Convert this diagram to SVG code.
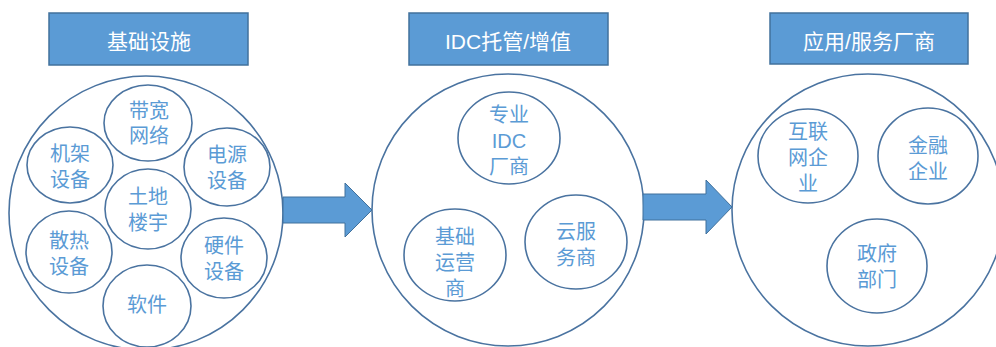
<svg xmlns="http://www.w3.org/2000/svg" width="996" height="347" viewBox="0 0 996 347">
<style>
  .title rect { fill: #5B9BD5; stroke: #41719C; stroke-width: 1.5; }
  .title text { fill: #ffffff; font-family: "Liberation Sans", "Noto Sans CJK SC", sans-serif; font-size: 21px; text-anchor: middle; dominant-baseline: central; }
  .big { fill: #ffffff; stroke: #4A73A0; stroke-width: 1.6; }
  .node ellipse { fill: #ffffff; stroke: #4A73A0; stroke-width: 1.6; }
  .node text { fill: #5B9BD5; font-family: "Liberation Sans", "Noto Sans CJK SC", sans-serif; font-size: 20px; text-anchor: middle; dominant-baseline: central; }
  .arrow { fill: #5B9BD5; stroke: #41719C; stroke-width: 1; }
</style>
<rect width="996" height="347" fill="#ffffff"/>

<g id="title1" class="title"><rect x="49" y="13" width="199" height="52"/><text x="149" y="41">基础设施</text></g>
<g id="title2" class="title"><rect x="409" y="13" width="199" height="52"/><text x="508" y="41">IDC托管/增值</text></g>
<g id="title3" class="title"><rect x="770" y="13" width="198" height="51"/><text x="869" y="41">应用/服务厂商</text></g>

<g id="group1"><circle class="big" cx="146" cy="213" r="137"/></g>
<g id="group2"><circle class="big" cx="508" cy="210" r="136"/></g>
<g id="group3"><circle class="big" cx="868" cy="210" r="136"/></g>

<g id="connectors">
  <polygon class="arrow" points="283,197 345,197 345,183 372,210 345,237 345,223 283,223"/>
  <polygon class="arrow" points="643,194 706,194 706,180 732,207 706,234 706,220 643,220"/>
</g>

<g id="n-daikuan" class="node"><ellipse cx="148" cy="123" rx="44" ry="38"/><text x="149" y="111">带宽</text><text x="149" y="136">网络</text></g>
<g id="n-jijia" class="node"><ellipse cx="70" cy="165" rx="43" ry="38"/><text x="70" y="154">机架</text><text x="70" y="180">设备</text></g>
<g id="n-dianyuan" class="node"><ellipse cx="227" cy="167" rx="43" ry="39"/><text x="227" y="155">电源</text><text x="227" y="181">设备</text></g>
<g id="n-tudi" class="node"><ellipse cx="148" cy="209" rx="43" ry="40"/><text x="148" y="197">土地</text><text x="148" y="223">楼宇</text></g>
<g id="n-sanre" class="node"><ellipse cx="69" cy="252" rx="43" ry="41"/><text x="69" y="241">散热</text><text x="69" y="267">设备</text></g>
<g id="n-yingjian" class="node"><ellipse cx="224" cy="258" rx="43" ry="40"/><text x="224" y="246">硬件</text><text x="224" y="272">设备</text></g>
<g id="n-ruanjian" class="node"><ellipse cx="147" cy="306" rx="44" ry="41"/><text x="147" y="305">软件</text></g>

<g id="n-idc" class="node"><ellipse cx="509" cy="138" rx="51" ry="46"/><text x="509" y="115">专业</text><text x="509" y="141">IDC</text><text x="509" y="167">厂商</text></g>
<g id="n-jichu" class="node"><ellipse cx="455" cy="255" rx="51" ry="46"/><text x="455" y="237">基础</text><text x="455" y="263">运营</text><text x="455" y="289">商</text></g>
<g id="n-yun" class="node"><ellipse cx="576" cy="242" rx="51" ry="47"/><text x="576" y="232">云服</text><text x="576" y="258">务商</text></g>

<g id="n-hulian" class="node"><ellipse cx="808" cy="156" rx="50" ry="47"/><text x="808" y="132">互联</text><text x="808" y="158">网企</text><text x="808" y="184">业</text></g>
<g id="n-jinrong" class="node"><ellipse cx="928" cy="156" rx="50" ry="48"/><text x="928" y="146">金融</text><text x="928" y="172">企业</text></g>
<g id="n-zhengfu" class="node"><ellipse cx="877" cy="266" rx="50" ry="47"/><text x="877" y="254">政府</text><text x="877" y="280">部门</text></g>
</svg>
